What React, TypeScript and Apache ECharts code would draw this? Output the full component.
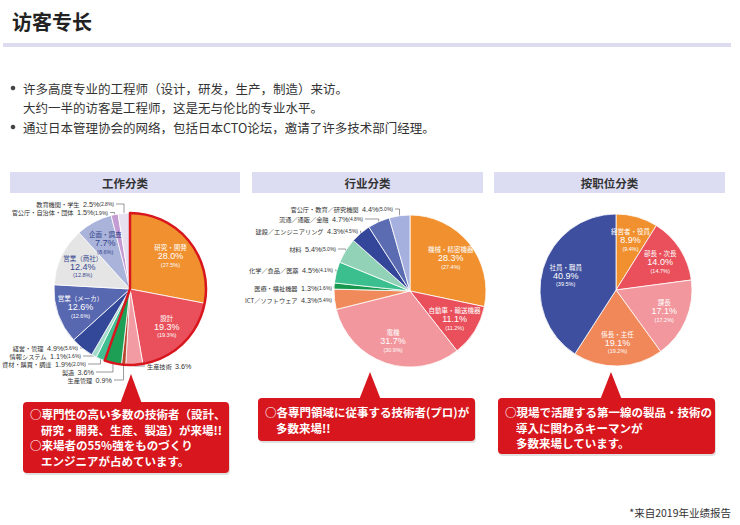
import React, { useEffect, useRef } from 'react';
import * as echarts from 'echarts';

// ---------- DATA ----------
const jobNames = ['研究・開発', '設計', '生産技術', '生産管理', '製造', '資材・購買・調達', '情報システム', '経営・管理', '営業（メーカ）', '営業（商社）', '企画・調査', '官公庁・自治体・団体', '教育機関・学生'];
const jobValues = [28.0, 19.3, 3.6, 0.9, 3.6, 1.9, 1.1, 4.9, 12.6, 12.4, 7.7, 1.5, 2.5];
const jobPrev = [27.5, 19.3, null, null, null, 2.0, 1.6, 5.6, 12.6, 12.8, 8.6, 1.9, 2.8];
const engineeringJobs = ['研究・開発', '設計', '生産技術', '生産管理', '製造'];

const industryNames = ['機械・精密機器', '自動車・輸送機器', '電機', 'ICT／ソフトウェア', '医療・福祉機器', '化学／食品／医薬', '材料', '建設／エンジニアリング', '流通／通販／金融', '官公庁・教育／研究機関'];
const industryValues = [28.3, 11.1, 31.7, 4.3, 1.3, 4.5, 5.4, 4.3, 4.7, 4.4];
const industryPrev = [27.4, 11.2, 30.9, 5.4, 1.6, 4.1, 5.0, 4.5, 4.8, 5.0];

const positionNames = ['経営者・役員', '部長・次長', '課長', '係長・主任', '社員・職員'];
const positionValues = [8.9, 14.0, 17.1, 19.1, 40.9];
const positionPrev = [9.4, 14.7, 17.2, 19.2, 39.5];

const pageTitle = '访客专长';
const bulletLines = ['许多高度专业的工程师（设计，研发，生产，制造）来访。', '大约一半的访客是工程师，这是无与伦比的专业水平。', '通过日本管理协会的网络，包括日本CTO论坛，邀请了许多技术部门经理。'];
const panelTitles = ['工作分类', '行业分类', '按职位分类'];
const calloutLeft = ['○専門性の高い多数の技術者（設計、', '研究・開発、生産、製造）が来場!!', '○来場者の55%強をものづくり', 'エンジニアが占めています。'];
const calloutMid = ['○各専門領域に従事する技術者(プロ)が', '多数来場!!'];
const calloutRight = ['○現場で活躍する第一線の製品・技術の', '導入に関わるキーマンが', '多数来場しています。'];
const footnote = '*来自2019年业绩报告';

// ---------- STYLES / LAYOUT ----------
const JP = '"Noto Sans CJK JP", "Noto Sans", sans-serif';
const SC = '"Noto Sans CJK SC", "Noto Sans", sans-serif';
const NUM = '"Liberation Sans", Arial, sans-serif';
const RED = '#d8161d';

const jobColors = ['#f0902e', '#e9505b', '#f29ba2', '#b9472d', '#1d9f55', '#3fbf92', '#a3dccb', '#34489a', '#5767b0', '#e5e5e5', '#aab3da', '#c49bd2', '#e7e0f1'];
const industryColors = ['#f0902e', '#e9505b', '#f2979d', '#f08a5a', '#17984f', '#3cbf8f', '#92d3b8', '#33469a', '#5b6cb3', '#a5b0de'];
const positionColors = ['#f0902e', '#e9505b', '#f2979d', '#f0885a', '#3d4f9e'];
const darkLabelNames = ['営業（商社）', '企画・調査'];

const jobCenter: [number, number] = [130, 289];
const industryCenter: [number, number] = [410, 291];
const positionCenter: [number, number] = [616, 290];
const R = 76;

type Pos = [number, number, 'left' | 'right'];
const jobLabelPos: Record<string, Pos> = {
  '生産技術': [147, 366, 'left'],
  '生産管理': [112, 380, 'right'],
  '製造': [94, 372, 'right'],
  '資材・購買・調達': [86, 364, 'right'],
  '情報システム': [81, 356, 'right'],
  '経営・管理': [78, 348, 'right'],
  '官公庁・自治体・団体': [108, 212.5, 'right'],
  '教育機関・学生': [114, 204, 'right'],
};
const industryLabelPos: Record<string, Pos> = {
  'ICT／ソフトウェア': [332, 300, 'right'],
  '医療・福祉機器': [332, 288, 'right'],
  '化学／食品／医薬': [333, 270, 'right'],
  '材料': [336, 249, 'right'],
  '建設／エンジニアリング': [358, 231, 'right'],
  '流通／通販／金融': [363, 219, 'right'],
  '官公庁・教育／研究機関': [393, 209, 'right'],
};

const rich = {
  n: { fontFamily: JP, fontSize: 6.5, lineHeight: 8, color: '#fff' },
  p: { fontFamily: NUM, fontSize: 9, lineHeight: 10, color: '#fff' },
  q: { fontFamily: NUM, fontSize: 5.5, lineHeight: 7, color: '#fff' },
  nd: { fontFamily: JP, fontSize: 6.5, lineHeight: 8, color: '#35468f' },
  pd: { fontFamily: NUM, fontSize: 9, lineHeight: 10, color: '#35468f' },
  qd: { fontFamily: NUM, fontSize: 5.5, lineHeight: 7, color: '#35468f' },
  on: { fontFamily: JP, fontSize: 6.2, lineHeight: 7, color: '#333' },
  op: { fontFamily: NUM, fontSize: 7.2, lineHeight: 7, color: '#333' },
  oq: { fontFamily: NUM, fontSize: 5, lineHeight: 7, color: '#333' },
};

function fmt(v: number) {
  return v.toFixed(1) + '%';
}

function buildPie(names: string[], values: number[], prev: (number | null)[], colors: string[], center: [number, number], outside: Record<string, Pos>) {
  const data = names.map((name, i) => ({
    name,
    value: values[i],
    prev: prev[i],
    itemStyle: { color: colors[i] },
    label: outside[name] ? { position: 'outside' } : { position: 'inside' },
  }));
  const k = 1.28;
  return {
    type: 'pie',
    center,
    radius: R,
    startAngle: 90,
    clockwise: true,
    avoidLabelOverlap: false,
    emphasis: { disabled: true },
    itemStyle: { borderColor: '#fff', borderWidth: 0.8 },
    labelLine: { show: true, length: 4, length2: 4, lineStyle: { color: '#555', width: 0.6 } },
    label: {
      show: true,
      rich,
      formatter: (p: any) => {
        const d = p.data;
        if (outside[d.name]) {
          return `{on|${d.name}} {op|${fmt(d.value)}}` + (d.prev != null ? `{oq|(${fmt(d.prev)})}` : '');
        }
        const dk = darkLabelNames.includes(d.name) ? 'd' : '';
        return `{n${dk}|${d.name}}\n{p${dk}|${fmt(d.value)}}\n{q${dk}|(${fmt(d.prev)})}`;
      },
    },
    labelLayout: (p: any) => {
      const name = names[p.dataIndex];
      const pos = outside[name];
      if (pos) {
        const [x, y, align] = pos;
        const pts = p.labelLinePoints;
        const res: any = { x, y, align, verticalAlign: 'middle' };
        if (pts && pts.length) {
          const s = pts[0];
          const endX = align === 'right' ? x + 2 : x - 2;
          res.labelLinePoints = [s, [s[0], y], [endX, y]];
        }
        return res;
      }
      const r = p.labelRect;
      const lx = r.x + r.width / 2;
      const ly = r.y + r.height / 2;
      return { dx: (k - 1) * (lx - center[0]), dy: (k - 1) * (ly - center[1]) };
    },
    data,
  };
}

function callout(lines: string[], box: [number, number, number, number], apexX: number, apexY: number, textX: number, indent: number, firstY: number, lh: number) {
  const [x, y, w, h] = box;
  const els: any[] = [
    { type: 'rect', shape: { x: x + 1, y: y + 2, width: w, height: h, r: 4 }, style: { fill: 'rgba(0,0,0,0.12)' } },
    { type: 'polygon', shape: { points: [[apexX, apexY], [apexX - 11, y + 2], [apexX + 11, y + 2]] }, style: { fill: RED } },
    { type: 'rect', shape: { x, y, width: w, height: h, r: 4 }, style: { fill: RED } },
  ];
  lines.forEach((t, i) => {
    els.push({
      type: 'text',
      x: t.startsWith('○') ? textX : textX + indent,
      y: firstY + i * lh,
      style: { text: t, fill: '#fff', font: `bold 11.5px ${JP}`, verticalAlign: 'middle' },
    });
  });
  return els;
}

export default function App() {
  const ref = useRef<HTMLDivElement>(null);
  useEffect(() => {
    if (!ref.current) return;
    const chart = echarts.init(ref.current, undefined, { renderer: 'svg' });

    const engSum = jobNames.reduce((s, n, i) => (engineeringJobs.includes(n) ? s + jobValues[i] : s), 0);
    const restSum = jobNames.reduce((s, n, i) => (engineeringJobs.includes(n) ? s : s + jobValues[i]), 0);

    const graphics: any[] = [
      { type: 'text', x: 12, y: 21, style: { text: pageTitle, font: `bold 20px ${SC}`, fill: '#222', verticalAlign: 'middle' } },
      { type: 'rect', shape: { x: 3, y: 43, width: 728, height: 4 }, style: { fill: '#dcdcee' } },
      { type: 'circle', shape: { cx: 13, cy: 88, r: 2.3 }, style: { fill: '#444' } },
      { type: 'text', x: 23, y: 88, style: { text: bulletLines[0], font: `12.5px ${SC}`, fill: '#333', verticalAlign: 'middle' } },
      { type: 'text', x: 23, y: 107, style: { text: bulletLines[1], font: `12.5px ${SC}`, fill: '#333', verticalAlign: 'middle' } },
      { type: 'circle', shape: { cx: 13, cy: 127, r: 2.3 }, style: { fill: '#444' } },
      { type: 'text', x: 23, y: 127, style: { text: bulletLines[2], font: `12.5px ${SC}`, fill: '#333', verticalAlign: 'middle' } },
    ];
    const headers: [number, number][] = [[10, 230], [252, 231], [494, 231]];
    headers.forEach(([hx, hw], i) => {
      graphics.push({ type: 'rect', shape: { x: hx, y: 172, width: hw, height: 21 }, style: { fill: '#dcdcf3' } });
      graphics.push({ type: 'text', x: hx + hw / 2, y: 182.5, style: { text: panelTitles[i], font: `bold 11.5px ${SC}`, fill: '#333', align: 'center', verticalAlign: 'middle' } });
    });
    graphics.push(...callout(calloutLeft, [23, 402, 206, 71], 131, 374, 30, 11, 414, 15.5));
    graphics.push(...callout(calloutMid, [258, 398, 217, 43], 370, 372, 265, 11, 412, 15.5));
    graphics.push(...callout(calloutRight, [498, 398, 217, 56], 611, 372, 505, 11, 412, 15.5));
    graphics.push({ type: 'text', x: 731, y: 512, style: { text: footnote, font: `10.5px ${SC}`, fill: '#333', align: 'right', verticalAlign: 'middle' } });

    chart.setOption({
      animation: false,
      backgroundColor: '#fff',
      graphic: { elements: graphics },
      series: [
        buildPie(jobNames, jobValues, jobPrev, jobColors, jobCenter, jobLabelPos),
        {
          type: 'pie',
          center: jobCenter,
          radius: R,
          startAngle: 90,
          silent: true,
          z: 5,
          emphasis: { disabled: true },
          label: { show: false },
          labelLine: { show: false },
          data: [
            { value: engSum, itemStyle: { color: 'rgba(0,0,0,0)', borderColor: RED, borderWidth: 2.5 } },
            { value: restSum, itemStyle: { color: 'rgba(0,0,0,0)', borderWidth: 0 } },
          ],
        },
        buildPie(industryNames, industryValues, industryPrev, industryColors, industryCenter, industryLabelPos),
        buildPie(positionNames, positionValues, positionPrev, positionColors, positionCenter, {}),
      ],
    });
    return () => chart.dispose();
  }, []);
  return <div ref={ref} style={{ position: 'absolute', left: 0, top: 0, width: 740, height: 525 }} />;
}
